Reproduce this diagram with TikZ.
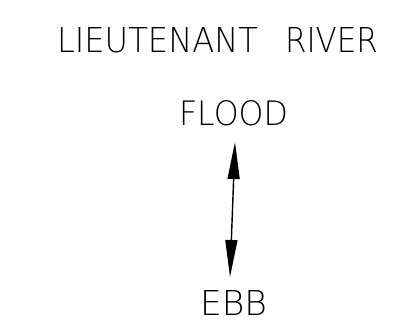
\documentclass[tikz,border=0pt]{standalone}
\usepackage{fontspec}
\usepackage{graphicx}
\newfontfamily\cadfont{DejaVu Sans ExtraLight}
\usetikzlibrary{arrows.meta}
\begin{document}
\begin{tikzpicture}[x=1pt,y=-1pt,
  lbl/.style={inner sep=0pt,outer sep=0pt,anchor=north west},
  flow/.style={line width=1.4pt,{Triangle[length=37pt,width=12pt]}-{Triangle[length=37pt,width=12pt]}}]
\useasboundingbox (0,0) rectangle (394,327);
\node[lbl] (t1) at (57,27) {\resizebox{201pt}{25pt}{\cadfont LIEUTENANT}};
\node[lbl] (t2) at (285,27) {\resizebox{93pt}{25pt}{\cadfont RIVER}};
\node[lbl] (flood) at (179,100) {\resizebox{109pt}{25pt}{\cadfont FLOOD}};
\node[lbl] (ebb) at (200,290) {\resizebox{67pt}{25pt}{\cadfont EBB}};
\coordinate (top) at (235,142);
\coordinate (bot) at (230,277);
\draw[flow] (top) -- (bot);
\end{tikzpicture}
\end{document}
